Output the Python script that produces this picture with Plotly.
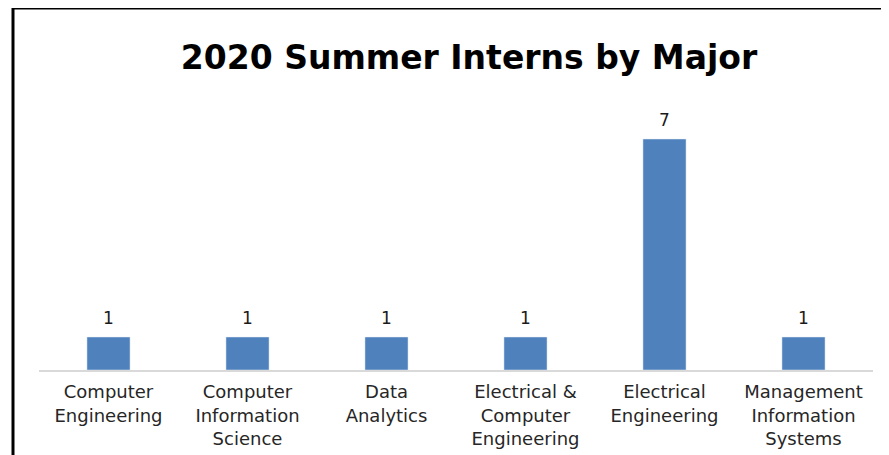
import plotly.graph_objects as go

categories = ["Computer<br>Engineering", "Computer<br>Information<br>Science", "Data<br>Analytics",
              "Electrical &<br>Computer<br>Engineering", "Electrical<br>Engineering",
              "Management<br>Information<br>Systems"]
interns = [1, 1, 1, 1, 7, 1]

# page has an 8px body margin, so the figure is sized to fit the window exactly
OFF = 8
W, H = 889 - OFF, 455 - OFF
ml, mr, mt, mb = 31, 16, 98, 85
pw, ph = W - ml - mr, H - mt - mb

def px_x(p):
    return (p - ml) / pw

def px_y(p):
    return (H - mb - p) / ph

fig = go.Figure(go.Bar(
    x=categories, y=interns, marker_color="#4F81BD", width=0.31,
    cliponaxis=False,
))

annotations = [
    dict(x=c, y=v, xref="x", yref="y", text=str(v), showarrow=False,
         yanchor="middle", yshift=19,
         font=dict(size=17, color="#1a1a1a", family="DejaVu Sans"))
    for c, v in zip(categories, interns)
]

fig.update_layout(
    width=W, height=H, margin=dict(l=ml, r=mr, t=mt, b=mb, autoexpand=False),
    paper_bgcolor="white", plot_bgcolor="white",
    title=dict(text="<b>2020 Summer Interns by Major</b>", x=461 / W, xanchor="center",
               y=1 - 49 / H, yanchor="middle",
               font=dict(size=33, color="black", family="DejaVu Sans")),
    font=dict(family="DejaVu Sans", size=18, color="#262626"),
    xaxis=dict(showline=True, linecolor="#d9d9d9", linewidth=1.5, automargin=False,
               ticks="outside", ticklen=5, tickcolor="rgba(0,0,0,0)",
               tickfont=dict(size=18, color="#262626"), showgrid=False),
    yaxis=dict(range=[0, 8], visible=False, showgrid=False, automargin=False),
    showlegend=False,
    annotations=annotations,
    shapes=[
        dict(type="line", xref="paper", yref="paper", x0=px_x(5), x1=px_x(W + 5),
             y0=px_y(0), y1=px_y(0), line=dict(color="black", width=3)),
        dict(type="line", xref="paper", yref="paper", x0=px_x(5), x1=px_x(5),
             y0=px_y(0), y1=px_y(H + 5), line=dict(color="black", width=3)),
    ],
)

fig.write_html("out.html")
